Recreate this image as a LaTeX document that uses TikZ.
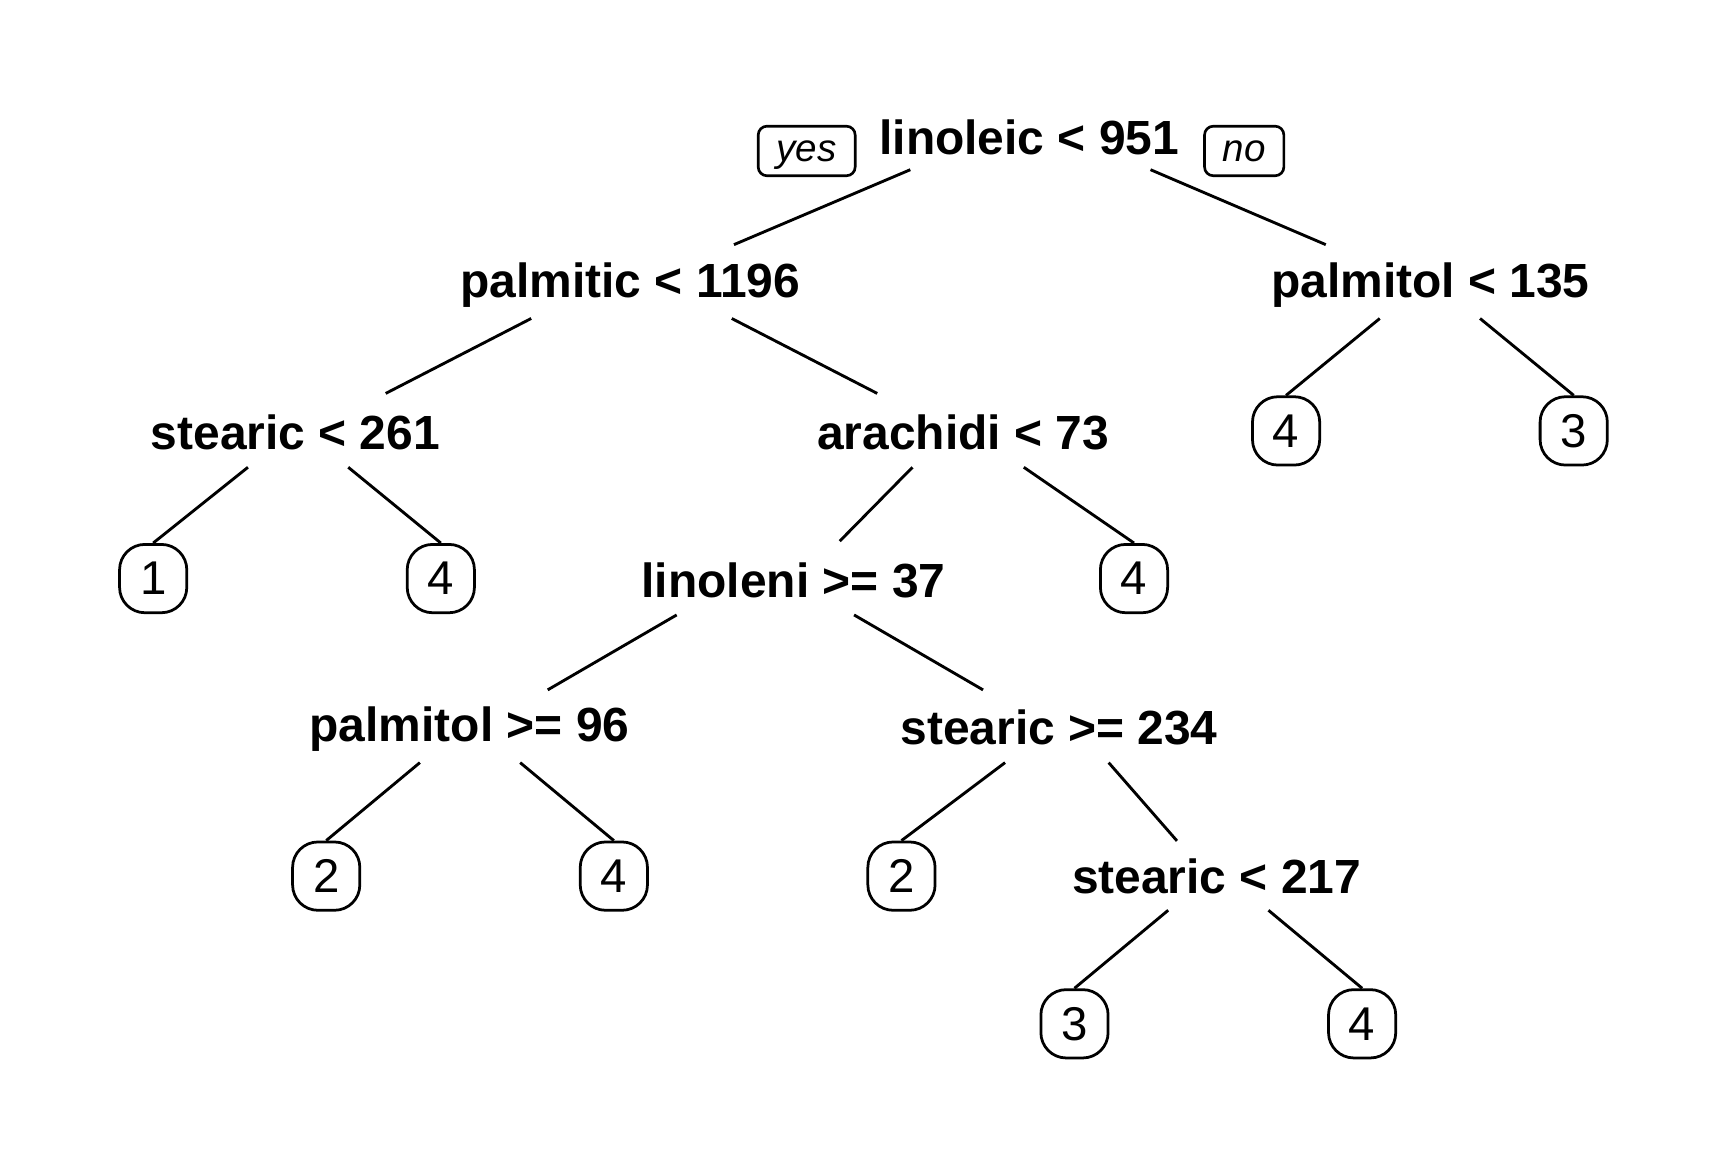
\documentclass[tikz,border=0pt]{standalone}
\usepackage{fontspec}
\setmainfont{Liberation Sans}
\usetikzlibrary{calc}
\tikzset{
  split/.style={anchor=base,inner sep=0pt,font=\fontsize{43.5}{48}\selectfont\bfseries},
  leaf/.style={draw,line width=2.5pt,rounded corners=23pt,minimum width=61pt,minimum height=62pt,inner sep=0pt,font=\fontsize{43}{48}\selectfont},
  yn/.style={draw,line width=2.4pt,rounded corners=8pt,minimum height=45pt,inner sep=0pt,text depth=0pt,font=\fontsize{35}{40}\selectfont\itshape},
  br/.style={line width=2.6pt}
}
\begin{document}
\begin{tikzpicture}[x=1pt,y=-1pt]
\useasboundingbox (0,0) rectangle (1568,1045.3);
% split nodes
\node[split] (root) at (934,140) {linoleic < 951};
\node[split] (palm) at (572,270) {palmitic < 1196};
\node[split] (pa135) at (1298,270) {palmitol < 135};
\node[split] (st261) at (268,408) {stearic < 261};
\node[split] (arach) at (874,408) {arachidi < 73};
\node[split] (lin) at (720,542) {linoleni >= 37};
\node[split] (pa96) at (426,673) {palmitol >= 96};
\node[split] (st234) at (961,676) {stearic >= 234};
\node[split] (st217) at (1104,811) {stearic < 217};
% yes / no
\node[yn,minimum width=88pt] (yes) at (732,137) {yes};
\node[yn,minimum width=72pt] (no) at (1129,137) {no};
% leaves
\node[leaf] (l4a) at (1167,391) {4};
\node[leaf] (l3a) at (1428,391) {3};
\node[leaf] (l1) at (139,525) {1};
\node[leaf] (l4b) at (400,525) {4};
\node[leaf] (l4c) at (1029,525) {4};
\node[leaf] (l2a) at (296,795) {2};
\node[leaf] (l4d) at (557,795) {4};
\node[leaf] (l2b) at (818,795) {2};
\node[leaf] (l3b) at (975,929) {3};
\node[leaf] (l4e) at (1236,929) {4};
% branches
\draw[br] ([shift={(-108,14)}]root.base) -- ([shift={(94,-48)}]palm.base);
\draw[br] ([shift={(110,14)}]root.base) -- ([shift={(-95,-48)}]pa135.base);
\draw[br] ([shift={(-90,19)}]palm.base) -- ([shift={(82,-51)}]st261.base);
\draw[br] ([shift={(92,19)}]palm.base) -- ([shift={(-78,-51)}]arach.base);
\draw[br] ([shift={(-46,19)}]pa135.base) -- (l4a.north);
\draw[br] ([shift={(45,19)}]pa135.base) -- (l3a.north);
\draw[br] ([shift={(-43,16)}]st261.base) -- (l1.north);
\draw[br] ([shift={(48,16)}]st261.base) -- (l4b.north);
\draw[br] ([shift={(-46,16)}]arach.base) -- ([shift={(42,-51)}]lin.base);
\draw[br] ([shift={(55,16)}]arach.base) -- (l4c.north);
\draw[br] ([shift={(-106,16)}]lin.base) -- ([shift={(71,-47)}]pa96.base);
\draw[br] ([shift={(55,16)}]lin.base) -- ([shift={(-69,-50)}]st234.base);
\draw[br] ([shift={(-45,19)}]pa96.base) -- (l2a.north);
\draw[br] ([shift={(46,19)}]pa96.base) -- (l4d.north);
\draw[br] ([shift={(-49,16)}]st234.base) -- (l2b.north);
\draw[br] ([shift={(45,16)}]st234.base) -- ([shift={(-36,-48)}]st217.base);
\draw[br] ([shift={(-44,15)}]st217.base) -- (l3b.north);
\draw[br] ([shift={(47,15)}]st217.base) -- (l4e.north);
\end{tikzpicture}
\end{document}
